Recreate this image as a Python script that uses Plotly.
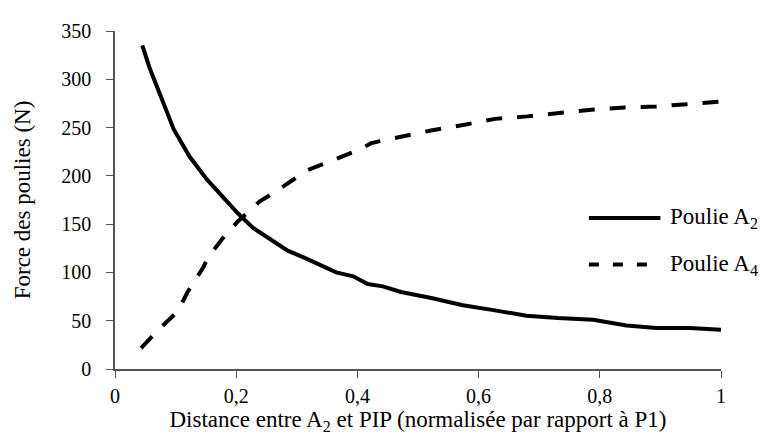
import plotly.graph_objects as go

# Poulie A2 (solid)
x_a2 = [0.045, 0.057, 0.097, 0.123, 0.152, 0.178, 0.203, 0.228, 0.258, 0.285, 0.313,
        0.365, 0.393, 0.417, 0.442, 0.472, 0.522, 0.574, 0.627, 0.679, 0.731, 0.789,
        0.844, 0.893, 0.948, 1.0]
y_a2 = [335, 312, 248, 220, 196, 178, 161, 146, 133, 122.5, 115,
        100, 96, 88, 85.6, 79.7, 73.5, 66, 60.7, 55.2, 52.8, 51,
        45, 42.4, 42.4, 40.7]

# Poulie A4 (dashed)
x_a4 = [0.043, 0.074, 0.104, 0.12, 0.145, 0.153, 0.178, 0.203, 0.239, 0.261, 0.294,
        0.318, 0.363, 0.406, 0.423, 0.467, 0.519, 0.577, 0.627, 0.68, 0.734, 0.786,
        0.841, 0.893, 0.946, 1.0]
y_a4 = [21.7, 42, 60, 80, 104.5, 115, 135.6, 153, 173.6, 182, 196,
        206, 217, 228, 234, 240, 246.7, 253, 259, 261.6, 265, 268.4,
        270.8, 271.8, 274.3, 277]

series_names = ["Poulie A<sub>2</sub>", "Poulie A<sub>4</sub>"]
x_ticks = [0, 0.2, 0.4, 0.6, 0.8, 1]
y_ticks = [0, 50, 100, 150, 200, 250, 300, 350]

FONT = "Liberation Serif, Times New Roman, serif"

fig = go.Figure()
fig.add_trace(go.Scatter(x=x_a2, y=y_a2, mode="lines", name=series_names[0],
                         line=dict(color="black", width=4), showlegend=False))
fig.add_trace(go.Scatter(x=x_a4, y=y_a4, mode="lines", name=series_names[1],
                         line=dict(color="black", width=4, dash="16px,15px"), showlegend=False))

# custom legend
leg_rows = [0.447, 0.309]
dashes = ["solid", "10px,14px"]
for name, yy, dsh in zip(series_names, leg_rows, dashes):
    fig.add_shape(type="line", xref="paper", yref="paper", x0=0.782, x1=0.9, y0=yy, y1=yy,
                  line=dict(color="black", width=4, dash=dsh))
    fig.add_annotation(xref="paper", yref="paper", x=0.912, y=yy, text=name, showarrow=False,
                       xanchor="left", yanchor="middle",
                       font=dict(family=FONT, size=23, color="black"))

axis_common = dict(showline=True, linecolor="#555", linewidth=1.5, ticks="outside",
                   tickcolor="#555", ticklen=7, showgrid=False, zeroline=False,
                   tickfont=dict(family=FONT, size=20, color="black"))

fig.update_layout(
    width=772, height=434,
    margin=dict(l=107, r=59, t=23, b=73),
    plot_bgcolor="white", paper_bgcolor="white",
    separators=", ",
    xaxis=dict(range=[0, 1], tickvals=x_ticks, **axis_common,
               title=dict(text="Distance entre A<sub>2</sub> et PIP (normalisée par rapport à P1)",
                          font=dict(family=FONT, size=23, color="black"), standoff=3)),
    yaxis=dict(range=[0, 350], tickvals=y_ticks, **axis_common,
               title=dict(text="Force des poulies (N)",
                          font=dict(family=FONT, size=23, color="black"), standoff=24)),
)
fig.update_xaxes(ticklabelstandoff=1)
fig.update_yaxes(ticklabelstandoff=11)

fig.write_html("out.html")
